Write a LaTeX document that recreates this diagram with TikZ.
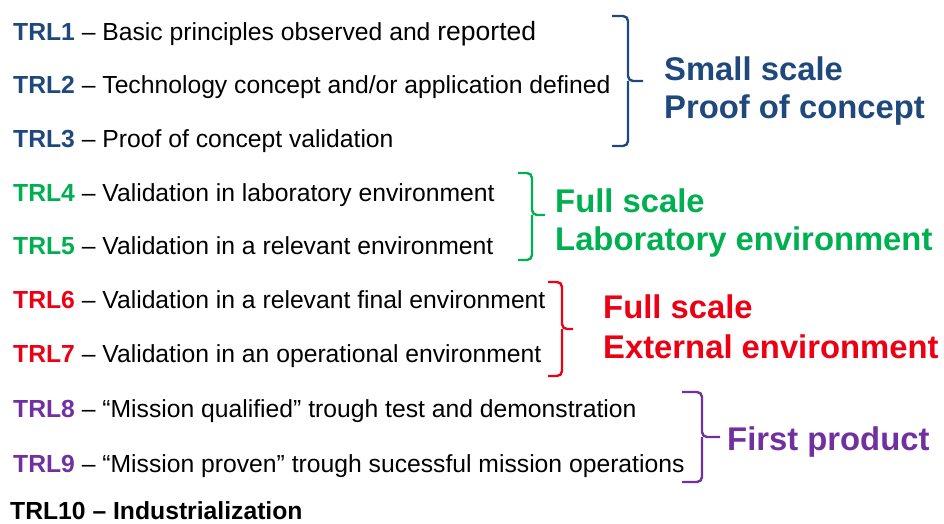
\documentclass[tikz,border=0pt]{standalone}
\usepackage{fontspec}
\setmainfont{Liberation Sans}
\usepackage{tikz}
\usetikzlibrary{calc}

\definecolor{trlblue}{RGB}{31,73,125}
\definecolor{trlgreen}{RGB}{0,176,80}
\definecolor{trlred}{RGB}{235,0,20}
\definecolor{trlpurple}{RGB}{112,48,160}

\tikzset{
  level/.style={anchor=base west,inner sep=0pt,font=\fontsize{24.7}{29}\selectfont},
  stage/.style={anchor=base west,inner sep=0pt,font=\fontsize{32.8}{38}\selectfont\bfseries},
  brace/.style={line width=2.4pt,rounded corners=5pt}
}

\begin{document}
\begin{tikzpicture}[x=1pt,y=-1pt]
              \useasboundingbox (0,0) rectangle (944,523);
              % the nine levels, coloured by stage
              \foreach \n/\y/\col/\txt in {
                  1/40/trlblue/{Basic principles observed and {\fontsize{26.5}{30}\selectfont reported}},
                  2/93/trlblue/{Technology concept and/or application defined},
                  3/147/trlblue/{Proof of concept validation},
                  4/201/trlgreen/{Validation in laboratory environment},
                  5/254/trlgreen/{Validation in a relevant environment},
                  6/308/trlred/{Validation in a relevant final environment},
                  7/362/trlred/{Validation in an operational environment},
                  8/417/trlpurple/{“Mission qualified” trough test and demonstration},
                  9/472/trlpurple/{“Mission proven” trough sucessful mission operations}}
                \node[level](trl\n)at(13,\y){\textbf{\color{\col}TRL\n} – \txt};
              \node[level,font=\fontsize{24.7}{29}\selectfont\bfseries](trl10)at(10,519){TRL10 – Industrialization};
              % braces
              \foreach \col/\a/\b/\c/\t/\m/\e in {
                  trlblue/612/628/643/16/81/146,
                  trlgreen/518/532/545/173/215/260,
                  trlred/548/562/573/282/329/376,
                  trlpurple/682/702/720/392/437/482}
                \draw[brace,\col] (\a,\t) -- (\b,\t) -- (\b,\m) -- (\c,\m) (\b,\m) -- (\b,\e) -- (\a,\e);
              % stage names
              \node[stage,trlblue](small)at(664,80){Small scale};
              \node[stage,trlblue](poc)at(664,118){Proof of concept};
              \node[stage,trlgreen](fulllab)at(555,212){Full scale};
              \node[stage,trlgreen](lab)at(555,250){Laboratory environment};
              \node[stage,trlred](fullext)at(603,318){Full scale};
              \node[stage,trlred](ext)at(603,358){External environment};
              \node[stage,trlpurple](first)at(727,450){First product};
            \end{tikzpicture}
\end{document}
